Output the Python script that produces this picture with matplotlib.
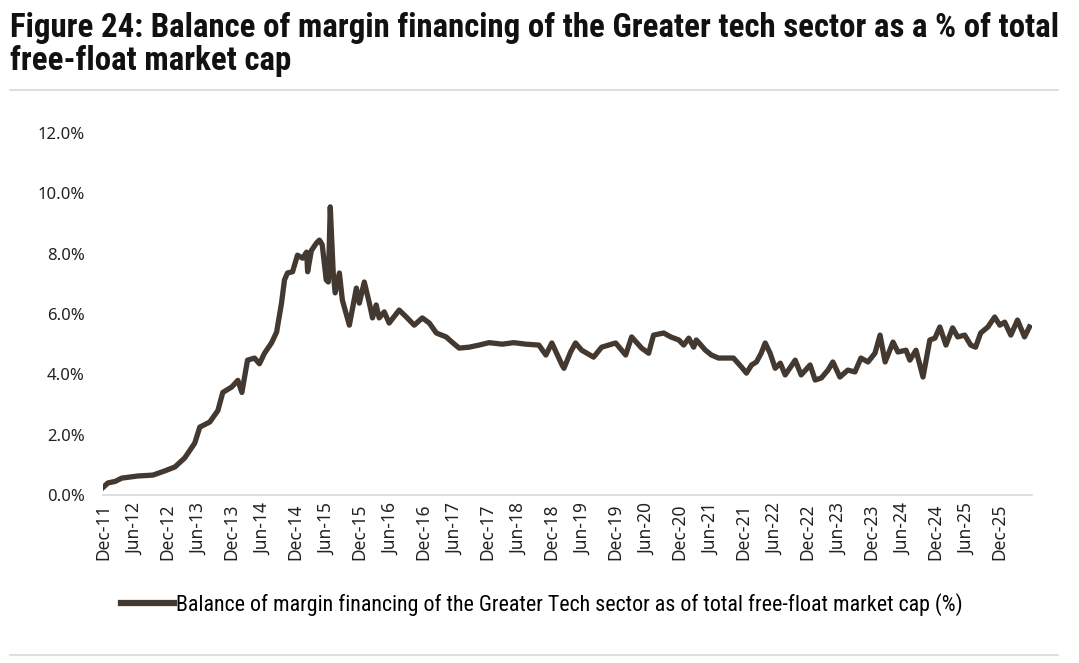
import pandas as pd
import matplotlib.pyplot as plt
from matplotlib.lines import Line2D

# Balance of margin financing of the Greater Tech sector, % of free-float market cap
dates = [
    "2011-12-01", "2011-12-29", "2012-02-08", "2012-03-17", "2012-06-17", "2012-09-11",
    "2012-11-18", "2013-01-14", "2013-03-11", "2013-05-07", "2013-06-05", "2013-08-01",
    "2013-09-16", "2013-10-14", "2013-12-04", "2014-01-08", "2014-01-31", "2014-03-04",
    "2014-04-13", "2014-05-11", "2014-06-09", "2014-07-19", "2014-08-17", "2014-09-14",
    "2014-10-01", "2014-10-18", "2014-11-16", "2014-12-14", "2015-01-12", "2015-02-04",
    "2015-02-10", "2015-03-03", "2015-04-01", "2015-04-18", "2015-05-04", "2015-05-27",
    "2015-06-08", "2015-06-19", "2015-07-06", "2015-07-17", "2015-08-10", "2015-08-27",
    "2015-10-06", "2015-11-15", "2015-12-02", "2015-12-30", "2016-01-28", "2016-02-15",
    "2016-03-07", "2016-03-24", "2016-04-22", "2016-05-20", "2016-07-16", "2016-08-26",
    "2016-10-10", "2016-11-25", "2017-01-04", "2017-02-13", "2017-04-10", "2017-05-13",
    "2017-06-23", "2017-08-19", "2017-10-15", "2017-12-11", "2018-02-24", "2018-05-01",
    "2018-07-08", "2018-09-21", "2018-10-31", "2018-12-04", "2019-01-31", "2019-02-11",
    "2019-03-21", "2019-04-18", "2019-05-23", "2019-07-30", "2019-09-14", "2019-12-03",
    "2020-01-29", "2020-03-03", "2020-04-29", "2020-06-08", "2020-07-06", "2020-09-02",
    "2020-10-12", "2020-11-27", "2020-12-25", "2021-01-23", "2021-02-20", "2021-03-07",
    "2021-04-28", "2021-06-01", "2021-07-11", "2021-08-20", "2021-10-05", "2021-11-20",
    "2021-12-18", "2022-01-16", "2022-02-13", "2022-03-12", "2022-04-04", "2022-05-02",
    "2022-05-31", "2022-06-29", "2022-07-27", "2022-09-22", "2022-10-26", "2022-12-16",
    "2023-01-14", "2023-02-18", "2023-03-28", "2023-04-25", "2023-06-04", "2023-07-19",
    "2023-08-29", "2023-10-02", "2023-11-11", "2023-12-21", "2024-01-19", "2024-02-17",
    "2024-04-02", "2024-04-30", "2024-06-15", "2024-07-07", "2024-08-11", "2024-09-20",
    "2024-10-29", "2024-11-27", "2024-12-25", "2025-01-29", "2025-03-08", "2025-04-06",
    "2025-05-16", "2025-06-19", "2025-07-17", "2025-08-15", "2025-09-25", "2025-11-03",
    "2025-12-02", "2025-12-30", "2026-02-03", "2026-03-13", "2026-04-22", "2026-05-20",
]
values = [
    0.25, 0.40, 0.45, 0.56, 0.63, 0.66,
    0.80, 0.93, 1.23, 1.72, 2.25, 2.42,
    2.80, 3.40, 3.58, 3.80, 3.40, 4.47,
    4.54, 4.35, 4.70, 5.04, 5.40, 6.36,
    7.13, 7.36, 7.40, 7.95, 7.85, 8.05,
    7.40, 8.10, 8.35, 8.45, 8.30, 7.13,
    7.06, 9.55, 7.36, 6.70, 7.36, 6.46,
    5.63, 6.86, 6.36, 7.06, 6.36, 5.87,
    6.30, 5.87, 6.07, 5.70, 6.13, 5.90,
    5.63, 5.87, 5.70, 5.37, 5.24, 5.07,
    4.87, 4.90, 4.97, 5.05, 5.00, 5.05,
    5.00, 4.97, 4.64, 5.04, 4.31, 4.20,
    4.74, 5.04, 4.80, 4.57, 4.90, 5.04,
    4.64, 5.24, 4.87, 4.70, 5.30, 5.37,
    5.24, 5.14, 4.97, 5.20, 4.90, 5.14,
    4.80, 4.64, 4.54, 4.54, 4.54, 4.24,
    4.04, 4.31, 4.41, 4.70, 5.04, 4.70,
    4.20, 4.37, 3.98, 4.47, 3.98, 4.31,
    3.81, 3.88, 4.14, 4.41, 3.91, 4.14,
    4.08, 4.54, 4.41, 4.70, 5.30, 4.41,
    5.07, 4.74, 4.80, 4.47, 4.80, 3.91,
    5.14, 5.20, 5.57, 4.97, 5.54, 5.24,
    5.30, 4.97, 4.90, 5.37, 5.57, 5.90,
    5.63, 5.73, 5.30, 5.80, 5.24, 5.57,
]
yticks = [0, 2, 4, 6, 8, 10, 12]
title = "Figure 24: Balance of margin financing of the Greater tech sector as a % of total\nfree-float market cap"
legend_label = "Balance of margin financing of the Greater Tech sector as of total free-float market cap (%)"

line_color = "#433930"
narrow = ["Roboto Condensed", "Liberation Sans Narrow", "Roboto", "DejaVu Sans"]
body = ["Noto Sans", "DejaVu Sans"]

x = pd.to_datetime(dates)

fig = plt.figure(figsize=(10.79, 6.63), dpi=100)
ax = fig.add_axes([0.0955, 0.2534, 0.8605, 0.546])

ax.plot(x, values, color=line_color, lw=3.8, solid_joinstyle="round")

ax.set_ylim(0, 12)
ax.set_yticks(yticks)
ax.set_yticklabels([f"{v:.1f}%" for v in yticks], family=body)
ax.set_xlim(pd.Timestamp("2011-12-01"), pd.Timestamp("2026-06-01"))

ticks = pd.date_range("2011-12-01", "2025-12-01", freq="6MS")
ax.set_xticks(ticks)
ax.set_xticklabels([t.strftime("%b-%y") for t in ticks], rotation=90, family=body)

for s in ["top", "right", "left"]:
    ax.spines[s].set_visible(False)
ax.spines["bottom"].set_color("#d9d9d9")
ax.spines["bottom"].set_linewidth(1.2)
ax.tick_params(length=0, colors="#222222")
ax.tick_params(axis="y", labelsize=12, pad=13)
ax.tick_params(axis="x", labelsize=12.5, pad=6)

# title and separators
fig.text(0.009, 0.982, title, ha="left", va="top", fontsize=23.7,
         fontweight="bold", family=narrow, color="#111111", linespacing=1.05)
fig.add_artist(Line2D([0.009, 0.981], [0.864, 0.864], color="#d9d9d9", lw=1.2))
fig.add_artist(Line2D([0.009, 0.981], [0.012, 0.012], color="#d9d9d9", lw=1.2))

handle = Line2D([], [], color=line_color, lw=4.5)
fig.legend([handle], [legend_label], loc="center", bbox_to_anchor=(0.502, 0.088),
           frameon=False, handlelength=2.4, handletextpad=0.1,
           prop={"family": narrow, "size": 15.8})

fig.savefig("out.png", dpi=100)
